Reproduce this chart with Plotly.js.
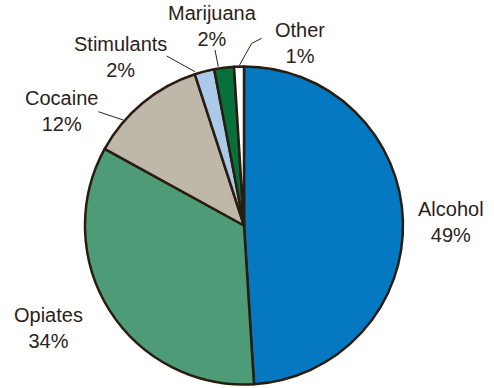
<!DOCTYPE html>
<html><head><meta charset="utf-8">
<script src="https://cdn.plot.ly/plotly-3.0.1.min.js"></script>
<style>html,body{margin:0;padding:0;background:#fff}#chart{width:494px;height:388px}</style>
</head><body><div id="chart"></div>
<script>
const categories = ["Alcohol", "Opiates", "Cocaine", "Stimulants", "Marijuana", "Other"];
const shares = [49, 34, 12, 2, 2, 1];
const colors = ["#0479c1", "#4e9b78", "#bfb8aa", "#abc9e9", "#08703a", "#ffffff"];

const W = 494, H = 388;
const px = (x) => x / W;
const py = (y) => 1 - y / H;
const textColor = "#2b2218";

// label positions (pixels)
const labelPos = [[451, 222], [48, 328], [61, 111], [120, 57], [212, 26], [300, 43]];
const annotations = categories.map((c, i) => ({
  text: c + "<br>" + shares[i] + "%",
  x: px(labelPos[i][0]), y: py(labelPos[i][1]),
  xref: "paper", yref: "paper", showarrow: false,
  xanchor: "center", yanchor: "middle", align: "center",
  font: {family: "Liberation Sans, Arial, sans-serif", size: 20, color: textColor}
}));

const leaders = [
  [[98.3, 111.7], [123.3, 120]],
  [[166.7, 56], [195, 71.7]],
  [[215, 50], [218.3, 66.7]],
  [[261.7, 38.3], [251.7, 43.3], [239.3, 65.5]]
];
const shapes = leaders.map(pts => ({
  type: "path", xref: "paper", yref: "paper",
  path: pts.map((p, j) => (j ? "L" : "M") + px(p[0]) + "," + py(p[1])).join(" "),
  line: {color: textColor, width: 1}
}));

const cx = 244, cy = 225.5, r = 159;
const data = [{
  type: "pie",
  labels: categories,
  values: shares,
  sort: false,
  direction: "clockwise",
  rotation: 0,
  textinfo: "none",
  hoverinfo: "label+percent",
  marker: {colors: colors, line: {color: "#2a1d10", width: 2.5}},
  domain: {x: [px(cx - r), px(cx + r)], y: [py(cy + r), py(cy - r)]},
  showlegend: false
}];

const layout = {
  width: W, height: H,
  margin: {l: 0, r: 0, t: 0, b: 0},
  paper_bgcolor: "#ffffff",
  plot_bgcolor: "#ffffff",
  showlegend: false,
  annotations: annotations,
  shapes: shapes
};
Plotly.newPlot("chart", data, layout, {displayModeBar: false, staticPlot: true});
</script></body></html>
